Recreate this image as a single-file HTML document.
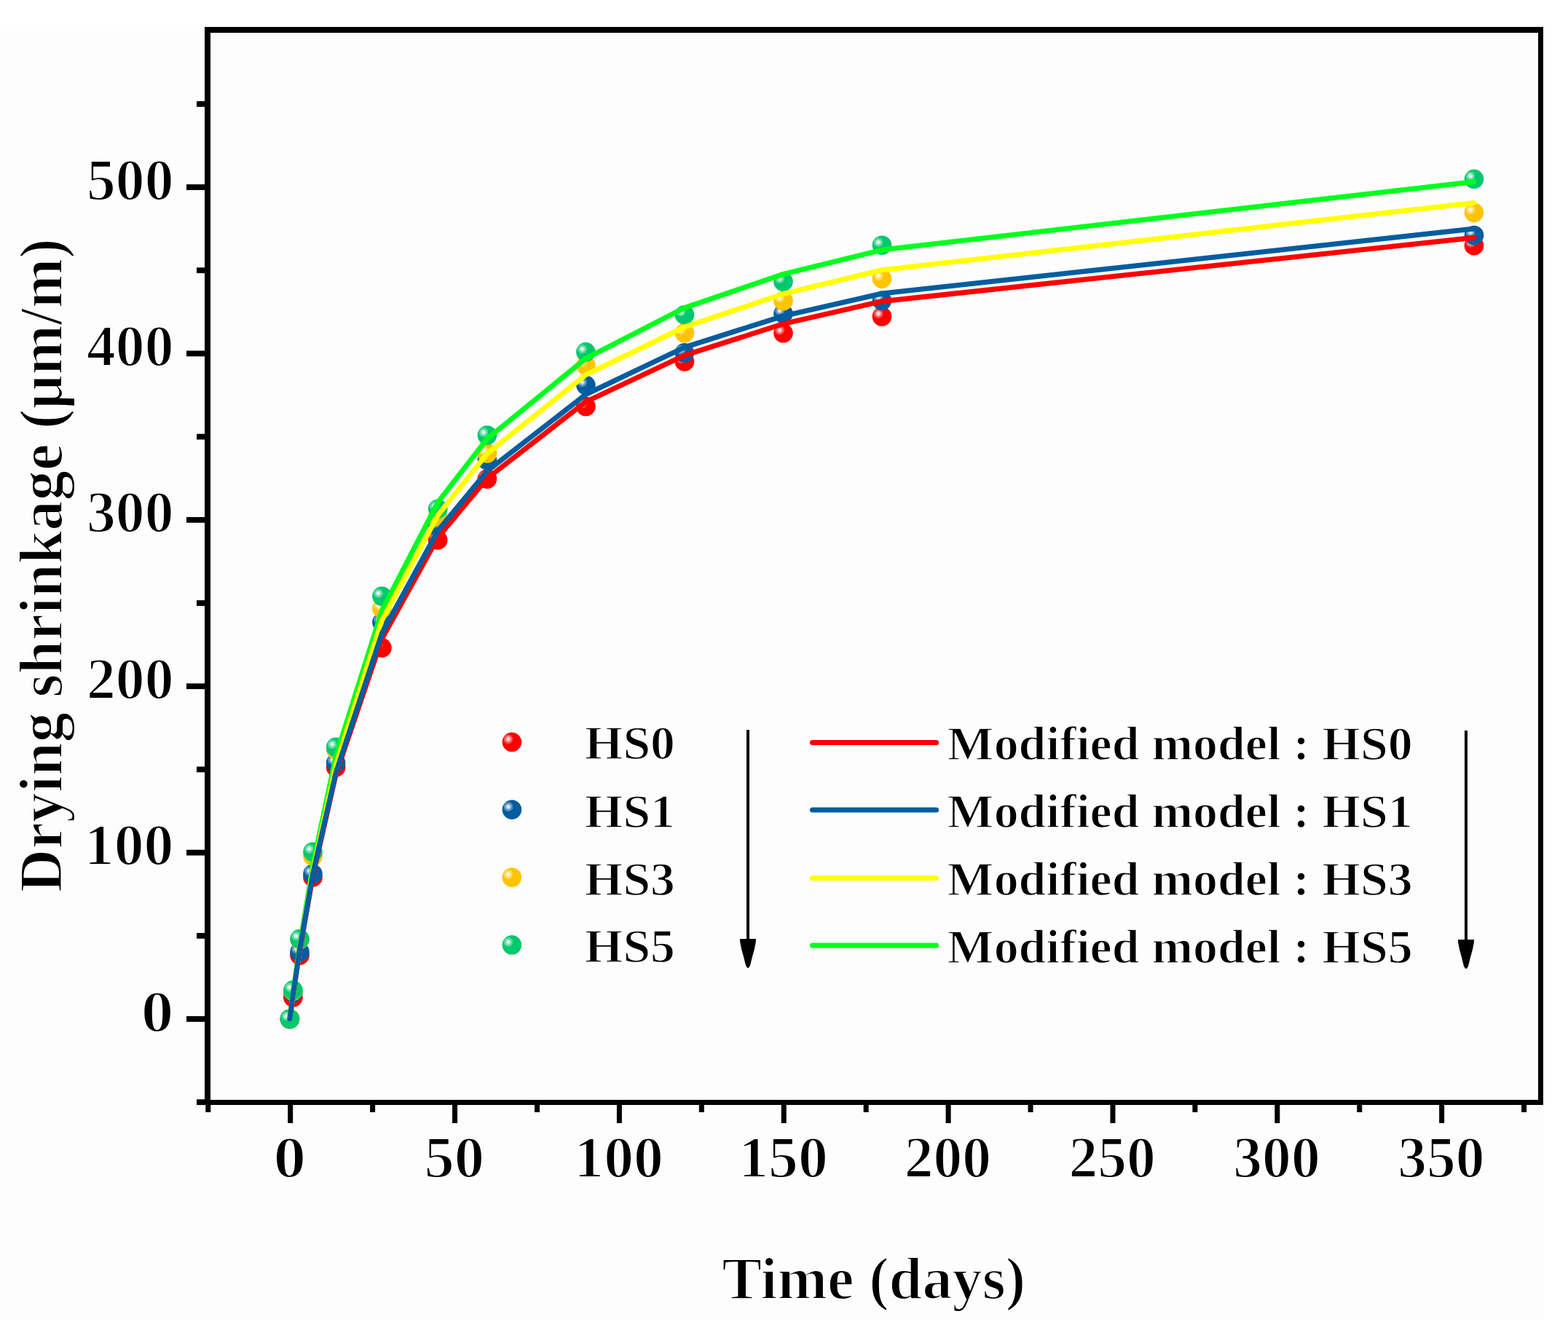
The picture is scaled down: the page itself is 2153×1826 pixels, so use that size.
<!DOCTYPE html><html><head><meta charset="utf-8"><title>Drying shrinkage</title>
<style>html,body{margin:0;padding:0;background:#fff;}svg{display:block;}text{font-family:"Liberation Serif","DejaVu Serif",serif;font-weight:bold;fill:#000;}</style></head><body>
<svg width="2153" height="1826" viewBox="0 0 2153 1826">
<defs>
<radialGradient id="gred" cx="0.315" cy="0.35" r="0.245" fx="0.315" fy="0.35"><stop offset="0" stop-color="#fff"/><stop offset="0.14" stop-color="#fff"/><stop offset="0.26" stop-color="#ffb8b8"/><stop offset="0.52" stop-color="#ffa8a8"/><stop offset="0.6" stop-color="#ff5757"/><stop offset="0.94" stop-color="#ff4c4c"/><stop offset="1" stop-color="#ff0000"/></radialGradient>
<radialGradient id="gblue" cx="0.315" cy="0.35" r="0.245" fx="0.315" fy="0.35"><stop offset="0" stop-color="#fff"/><stop offset="0.14" stop-color="#fff"/><stop offset="0.26" stop-color="#b8d2e4"/><stop offset="0.52" stop-color="#a8c8df"/><stop offset="0.6" stop-color="#5794c0"/><stop offset="0.94" stop-color="#4c8ebc"/><stop offset="1" stop-color="#005da0"/></radialGradient>
<radialGradient id="gyellow" cx="0.315" cy="0.35" r="0.245" fx="0.315" fy="0.35"><stop offset="0" stop-color="#fff"/><stop offset="0.14" stop-color="#fff"/><stop offset="0.26" stop-color="#ffeeb8"/><stop offset="0.52" stop-color="#ffeba8"/><stop offset="0.6" stop-color="#ffd857"/><stop offset="0.94" stop-color="#ffd64c"/><stop offset="1" stop-color="#ffc400"/></radialGradient>
<radialGradient id="ggreen" cx="0.315" cy="0.35" r="0.245" fx="0.315" fy="0.35"><stop offset="0" stop-color="#fff"/><stop offset="0.14" stop-color="#fff"/><stop offset="0.26" stop-color="#b8f0d6"/><stop offset="0.52" stop-color="#a8eccd"/><stop offset="0.6" stop-color="#57db9e"/><stop offset="0.94" stop-color="#4cd898"/><stop offset="1" stop-color="#00c86c"/></radialGradient>
</defs>
<rect x="0" y="0" width="2153" height="1826" fill="#fff"/>
<rect x="0" y="35" width="2120" height="1777" fill="#fdfdfd"/>
<g fill="#000">
<rect x="281" y="37" width="8" height="1480"/>
<rect x="281" y="37" width="1838" height="8"/>
<rect x="2112" y="37" width="7" height="1480"/>
<rect x="281" y="1510" width="1838" height="7"/>
<rect x="256" y="1395.10" width="26" height="7.8"/>
<rect x="256" y="1166.70" width="26" height="7.8"/>
<rect x="256" y="938.30" width="26" height="7.8"/>
<rect x="256" y="709.90" width="26" height="7.8"/>
<rect x="256" y="481.50" width="26" height="7.8"/>
<rect x="256" y="253.10" width="26" height="7.8"/>
<rect x="270" y="1509.30" width="12" height="7.8"/>
<rect x="270" y="1280.90" width="12" height="7.8"/>
<rect x="270" y="1052.50" width="12" height="7.8"/>
<rect x="270" y="824.10" width="12" height="7.8"/>
<rect x="270" y="595.70" width="12" height="7.8"/>
<rect x="270" y="367.30" width="12" height="7.8"/>
<rect x="270" y="138.90" width="12" height="7.8"/>
<rect x="395.20" y="1516" width="7" height="26"/>
<rect x="621.05" y="1516" width="7" height="26"/>
<rect x="846.90" y="1516" width="7" height="26"/>
<rect x="1072.75" y="1516" width="7" height="26"/>
<rect x="1298.60" y="1516" width="7" height="26"/>
<rect x="1524.45" y="1516" width="7" height="26"/>
<rect x="1750.30" y="1516" width="7" height="26"/>
<rect x="1976.15" y="1516" width="7" height="26"/>
<rect x="282.27" y="1516" width="7" height="11"/>
<rect x="508.12" y="1516" width="7" height="11"/>
<rect x="733.98" y="1516" width="7" height="11"/>
<rect x="959.83" y="1516" width="7" height="11"/>
<rect x="1185.67" y="1516" width="7" height="11"/>
<rect x="1411.53" y="1516" width="7" height="11"/>
<rect x="1637.38" y="1516" width="7" height="11"/>
<rect x="1863.23" y="1516" width="7" height="11"/>
<rect x="2089.08" y="1516" width="7" height="11"/>
</g>
<g font-size="81" stroke="#fff" stroke-width="2.0">
<text x="238.4" y="1415.6" text-anchor="end" textLength="44.6" lengthAdjust="spacingAndGlyphs">0</text>
<text x="238.4" y="1187.2" text-anchor="end" textLength="122.6" lengthAdjust="spacingAndGlyphs">100</text>
<text x="238.4" y="958.8" text-anchor="end" textLength="119.3" lengthAdjust="spacingAndGlyphs">200</text>
<text x="238.4" y="730.4" text-anchor="end" textLength="119.3" lengthAdjust="spacingAndGlyphs">300</text>
<text x="238.4" y="502.0" text-anchor="end" textLength="119.3" lengthAdjust="spacingAndGlyphs">400</text>
<text x="238.4" y="273.6" text-anchor="end" textLength="119.3" lengthAdjust="spacingAndGlyphs">500</text>
<text x="397.9" y="1616.1" text-anchor="middle" textLength="44.6" lengthAdjust="spacingAndGlyphs">0</text>
<text x="623.8" y="1616.1" text-anchor="middle" textLength="82.6" lengthAdjust="spacingAndGlyphs">50</text>
<text x="849.6" y="1616.1" text-anchor="middle" textLength="122.6" lengthAdjust="spacingAndGlyphs">100</text>
<text x="1075.5" y="1616.1" text-anchor="middle" textLength="122.6" lengthAdjust="spacingAndGlyphs">150</text>
<text x="1301.3" y="1616.1" text-anchor="middle" textLength="119.3" lengthAdjust="spacingAndGlyphs">200</text>
<text x="1527.2" y="1616.1" text-anchor="middle" textLength="119.3" lengthAdjust="spacingAndGlyphs">250</text>
<text x="1753.0" y="1616.1" text-anchor="middle" textLength="119.3" lengthAdjust="spacingAndGlyphs">300</text>
<text x="1978.9" y="1616.1" text-anchor="middle" textLength="119.3" lengthAdjust="spacingAndGlyphs">350</text>
</g>
<text x="991.2" y="1783" font-size="83" stroke="#fff" stroke-width="2" textLength="417" lengthAdjust="spacingAndGlyphs">Time (days)</text>
<text transform="translate(84.8,1225.2) rotate(-90)" x="0" y="0" font-size="85" stroke="#fff" stroke-width="2" textLength="898" lengthAdjust="spacingAndGlyphs">Drying shrinkage (μm/m)</text>
<g fill="url(#gred)">
<circle cx="397.9" cy="1399.0" r="13.3"/>
<circle cx="402.4" cy="1369.3" r="13.3"/>
<circle cx="411.5" cy="1311.5" r="13.3"/>
<circle cx="429.5" cy="1204.4" r="13.3"/>
<circle cx="461.1" cy="1053.4" r="13.3"/>
<circle cx="524.4" cy="889.4" r="13.3"/>
<circle cx="601.2" cy="741.4" r="13.3"/>
<circle cx="668.9" cy="657.6" r="13.3"/>
<circle cx="804.4" cy="558.0" r="13.3"/>
<circle cx="939.9" cy="496.4" r="13.3"/>
<circle cx="1075.5" cy="457.3" r="13.3"/>
<circle cx="1211.0" cy="434.5" r="13.3"/>
<circle cx="2024.0" cy="337.2" r="13.3"/>
</g>
<g fill="url(#gblue)">
<circle cx="397.9" cy="1399.0" r="13.3"/>
<circle cx="402.4" cy="1362.5" r="13.3"/>
<circle cx="411.5" cy="1307.0" r="13.3"/>
<circle cx="429.5" cy="1199.8" r="13.3"/>
<circle cx="461.1" cy="1047.3" r="13.3"/>
<circle cx="524.4" cy="854.3" r="13.3"/>
<circle cx="601.2" cy="722.9" r="13.3"/>
<circle cx="668.9" cy="632.0" r="13.3"/>
<circle cx="804.4" cy="528.8" r="13.3"/>
<circle cx="939.9" cy="484.3" r="13.3"/>
<circle cx="1075.5" cy="430.6" r="13.3"/>
<circle cx="1211.0" cy="412.8" r="13.3"/>
<circle cx="2024.0" cy="323.0" r="13.3"/>
</g>
<g fill="url(#gyellow)">
<circle cx="397.9" cy="1399.0" r="13.3"/>
<circle cx="402.4" cy="1360.6" r="13.3"/>
<circle cx="411.5" cy="1289.8" r="13.3"/>
<circle cx="429.5" cy="1175.6" r="13.3"/>
<circle cx="461.1" cy="1029.0" r="13.3"/>
<circle cx="524.4" cy="835.3" r="13.3"/>
<circle cx="601.2" cy="709.5" r="13.3"/>
<circle cx="668.9" cy="622.4" r="13.3"/>
<circle cx="804.4" cy="501.6" r="13.3"/>
<circle cx="939.9" cy="457.1" r="13.3"/>
<circle cx="1075.5" cy="413.0" r="13.3"/>
<circle cx="1211.0" cy="382.6" r="13.3"/>
<circle cx="2024.0" cy="291.9" r="13.3"/>
</g>
<g fill="url(#ggreen)">
<circle cx="397.9" cy="1399.0" r="13.3"/>
<circle cx="402.4" cy="1359.3" r="13.3"/>
<circle cx="411.5" cy="1289.1" r="13.3"/>
<circle cx="429.5" cy="1169.5" r="13.3"/>
<circle cx="461.1" cy="1025.8" r="13.3"/>
<circle cx="524.4" cy="818.6" r="13.3"/>
<circle cx="601.2" cy="698.7" r="13.3"/>
<circle cx="668.9" cy="597.5" r="13.3"/>
<circle cx="804.4" cy="483.3" r="13.3"/>
<circle cx="939.9" cy="432.2" r="13.3"/>
<circle cx="1075.5" cy="386.7" r="13.3"/>
<circle cx="1211.0" cy="336.7" r="13.3"/>
<circle cx="2024.0" cy="245.8" r="13.3"/>
</g>
<polyline points="397.9,1399.0 402.4,1366.3 411.5,1306.1 429.5,1202.8 461.1,1063.4 524.4,877.1 601.2,738.1 668.9,656.8 804.4,551.6 939.9,487.8 1075.5,444.7 1211.0,413.7 2024.0,326.3" fill="none" stroke="#ff0000" stroke-width="7" stroke-linecap="round" stroke-linejoin="round"/>
<polyline points="397.9,1399.0 402.4,1364.0 411.5,1299.4 429.5,1188.8 461.1,1038.7 524.4,838.5 601.2,689.6 668.9,602.4 804.4,492.1 939.9,422.6 1075.5,376.4 1211.0,343.1 2024.0,249.5" fill="none" stroke="#00ff1e" stroke-width="7" stroke-linecap="round" stroke-linejoin="round"/>
<polyline points="397.9,1399.0 402.4,1365.3 411.5,1303.1 429.5,1196.2 461.1,1050.8 524.4,851.6 601.2,707.4 668.9,622.8 804.4,514.6 939.9,449.0 1075.5,403.5 1211.0,370.7 2024.0,278.4" fill="none" stroke="#ffff00" stroke-width="7" stroke-linecap="round" stroke-linejoin="round"/>
<polyline points="397.9,1399.0 402.4,1365.4 411.5,1303.6 429.5,1200.3 461.1,1061.0 524.4,869.5 601.2,728.8 668.9,646.8 804.4,541.5 939.9,476.8 1075.5,433.8 1211.0,403.0 2024.0,314.0" fill="none" stroke="#005da0" stroke-width="7" stroke-linecap="round" stroke-linejoin="round"/>
<g font-size="66" stroke="#fff" stroke-width="1.5">
<text x="802.8" y="1042.4" textLength="124" lengthAdjust="spacingAndGlyphs">HS0</text>
<text x="1300.6" y="1042.8" textLength="639" lengthAdjust="spacingAndGlyphs">Modified model : HS0</text>
<text x="802.8" y="1136.0" textLength="124" lengthAdjust="spacingAndGlyphs">HS1</text>
<text x="1300.6" y="1136.4" textLength="639" lengthAdjust="spacingAndGlyphs">Modified model : HS1</text>
<text x="802.8" y="1228.5" textLength="124" lengthAdjust="spacingAndGlyphs">HS3</text>
<text x="1300.6" y="1228.9" textLength="639" lengthAdjust="spacingAndGlyphs">Modified model : HS3</text>
<text x="802.8" y="1321.1" textLength="124" lengthAdjust="spacingAndGlyphs">HS5</text>
<text x="1300.6" y="1321.5" textLength="639" lengthAdjust="spacingAndGlyphs">Modified model : HS5</text>
</g>
<circle cx="702.9" cy="1018.8" r="13.3" fill="url(#gred)"/>
<line x1="1115.5" y1="1019.6" x2="1285.6" y2="1019.6" stroke="#ff0000" stroke-width="7" stroke-linecap="round"/>
<circle cx="702.9" cy="1111.6" r="13.3" fill="url(#gblue)"/>
<line x1="1115.5" y1="1112.0" x2="1285.6" y2="1112.0" stroke="#005da0" stroke-width="7" stroke-linecap="round"/>
<circle cx="702.9" cy="1204.5" r="13.3" fill="url(#gyellow)"/>
<line x1="1115.5" y1="1205.6" x2="1285.6" y2="1205.6" stroke="#ffff00" stroke-width="7" stroke-linecap="round"/>
<circle cx="702.9" cy="1297.3" r="13.3" fill="url(#ggreen)"/>
<line x1="1115.5" y1="1298.0" x2="1285.6" y2="1298.0" stroke="#00ff1e" stroke-width="7" stroke-linecap="round"/>
<rect x="1025" y="1002" width="4" height="289" fill="#000"/>
<polygon points="1016.1,1289.0 1037.9,1289.0 1037.9,1292.8 1035.9,1302.9 1033.0,1313.6 1030.2,1324.8 1028.5,1328.2 1027.0,1329.0 1025.5,1328.2 1023.8,1324.8 1021.0,1313.6 1018.1,1302.9 1016.1,1292.8" fill="#000"/>
<rect x="2011" y="1003" width="4" height="289" fill="#000"/>
<polygon points="2002.1,1290.0 2023.9,1290.0 2023.9,1293.8 2021.9,1303.9 2019.0,1314.6 2016.2,1325.8 2014.5,1329.2 2013.0,1330.0 2011.5,1329.2 2009.8,1325.8 2007.0,1314.6 2004.1,1303.9 2002.1,1293.8" fill="#000"/>
</svg></body></html>
